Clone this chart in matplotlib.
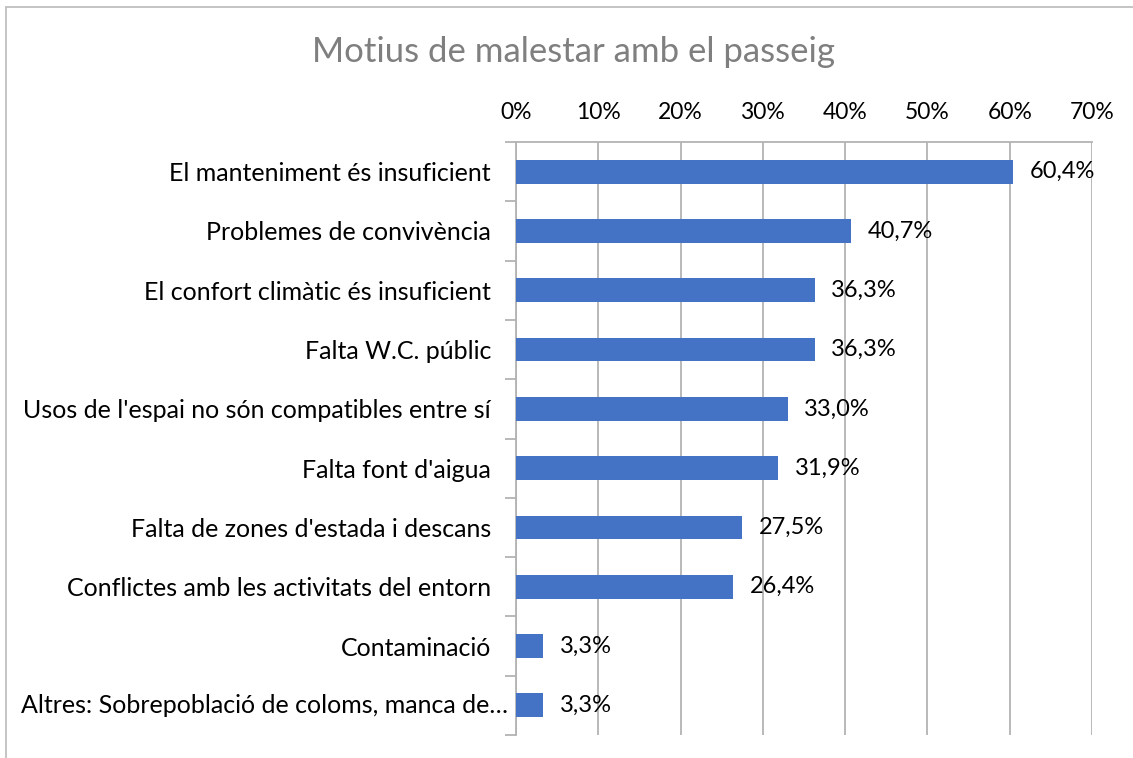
import matplotlib
matplotlib.use("Agg")
import matplotlib.pyplot as plt
from matplotlib.patches import Rectangle
from matplotlib.ticker import FixedLocator, PercentFormatter

categories = [
    "El manteniment és insuficient",
    "Problemes de convivència",
    "El confort climàtic és insuficient",
    "Falta W.C. públic",
    "Usos de l'espai no són compatibles entre sí",
    "Falta font d'aigua",
    "Falta de zones d'estada i descans",
    "Conflictes amb les activitats del entorn",
    "Contaminació",
    "Altres: Sobrepoblació de coloms, manca de…",
]
values = [60.4, 40.7, 36.3, 36.3, 33.0, 31.9, 27.5, 26.4, 3.3, 3.3]
x_ticks = [0, 10, 20, 30, 40, 50, 60, 70]
title = "Motius de malestar amb el passeig"

FONT = "Lato"
plt.rcParams['font.family'] = [FONT, 'DejaVu Sans']

W, H = 1133, 758
fig = plt.figure(figsize=(W / 100, H / 100), dpi=100)
ax = fig.add_axes([516 / W, 1 - 735 / H, (1092 - 516) / W, (735 - 142) / H])

n = len(categories)
pos = list(range(n))
ax.barh(pos, values, height=0.4, color="#4472C4", zorder=3)
ax.set_ylim(n - 0.5, -0.5)
ax.set_xlim(0, 70)

ax.xaxis.tick_top()
ax.xaxis.set_major_locator(FixedLocator(x_ticks))
ax.xaxis.set_major_formatter(PercentFormatter(decimals=0))
ax.tick_params(axis="x", length=0, pad=14, labelsize=16.5, labelcolor="black")
ax.grid(axis="x", color="#B3B3B3", linewidth=1.3, zorder=0)

# last (truncated) label sits closer to the axis, as in the original
ax.set_yticks(pos)
ax.set_yticklabels(categories[:-1] + [""])
ax.tick_params(axis="y", which="major", length=0, pad=18, labelsize=18)
ax.annotate(categories[-1], (0, n - 1), xytext=(-6, 0), textcoords="offset points",
            ha="right", va="center", fontsize=18, color="black",
            annotation_clip=False)
ax.set_yticks([i - 0.5 for i in range(n + 1)], minor=True)
ax.tick_params(axis="y", which="minor", length=8, width=1.3, color="#B3B3B3", direction="out")

for s in ["right", "bottom"]:
    ax.spines[s].set_visible(False)
ax.spines["left"].set_color("#B3B3B3")
ax.spines["left"].set_linewidth(1.3)
ax.spines["top"].set_color("#B3B3B3")
ax.spines["top"].set_linewidth(1.3)

for i, v in enumerate(values):
    ax.annotate(f"{v:.1f}%".replace(".", ","), (v, i), xytext=(12, 0),
                textcoords="offset points", va="center", ha="left",
                fontsize=17, color="black", zorder=4)

fig.text(574 / W, 1 - 52 / H, title, ha="center", va="center",
         fontsize=25, color="#7F7F7F")

fig.patches.append(Rectangle((6 / W, -0.5), 2, 1.5 - 6.5 / H,
                             transform=fig.transFigure, fill=False,
                             edgecolor="#BFBFBF", linewidth=1.3))

fig.savefig("out.png", dpi=100)
